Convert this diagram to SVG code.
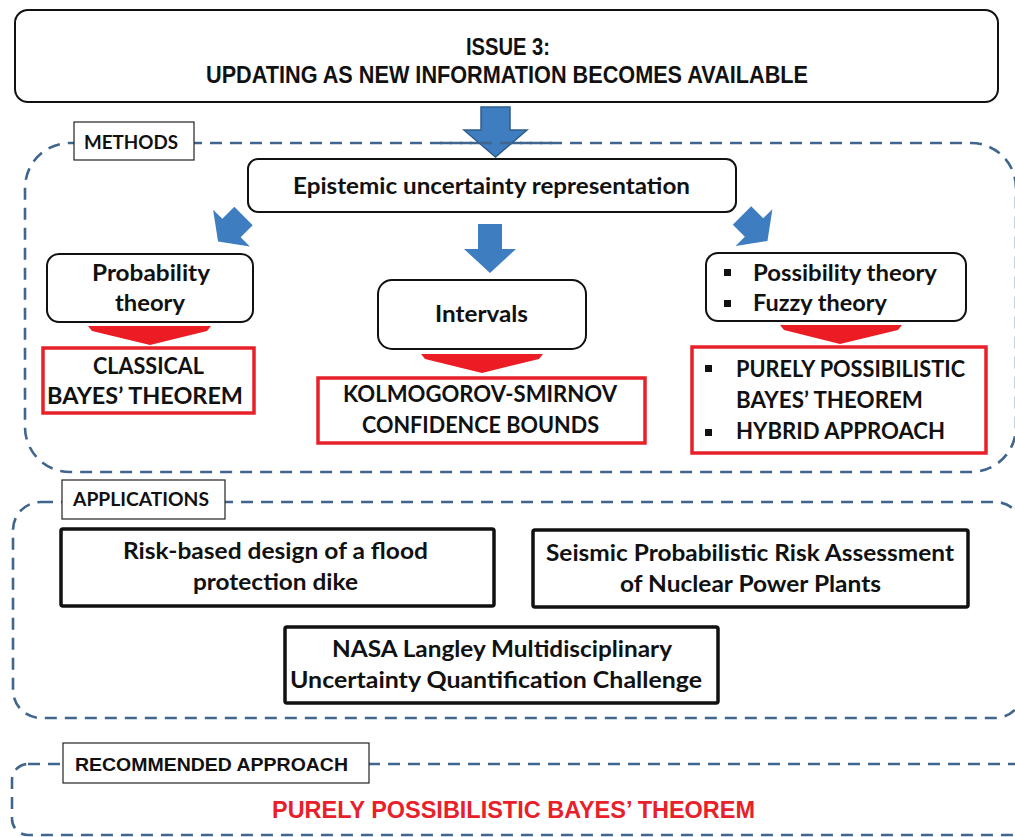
<svg xmlns="http://www.w3.org/2000/svg" width="1015" height="837" viewBox="0 0 1015 837">
<defs>
<style>
.dash{fill:none;stroke:#41668e;stroke-width:2.6;stroke-dasharray:12 8}
.lab{fill:#fff;stroke:#222;stroke-width:1.2}
.rnd{fill:#fff;stroke:#111;stroke-width:2}
.red{fill:#fff;stroke:#e8202a;stroke-width:3.5}
.app{fill:#fff;stroke:#111;stroke-width:3.5}
.blue{fill:#3e7dc0}
.redar{fill:#ec1c24}
.t{font-family:Lato,"Open Sans","Liberation Sans",sans-serif;font-weight:700;font-size:22px;fill:#111;text-anchor:middle}
.tl{font-family:Lato,"Open Sans","Liberation Sans",sans-serif;font-weight:700;font-size:22px;fill:#111}
.lb{font-family:Lato,"Liberation Sans",sans-serif;font-weight:700;font-size:18px;fill:#111}
.cn{font-family:"Liberation Sans",Arial,sans-serif;font-weight:700;fill:#111;text-anchor:middle}
.bul{fill:#111}
</style>
<path id="blk" d="M-13,0 L13,0 L13,17 L26,17 L0,36 L-26,17 L-13,17 Z"/>
</defs>
<rect width="1015" height="837" fill="#fff"/>

<!-- region containers -->
<g id="methods-region">
<rect class="dash" x="25" y="143" width="991" height="329" rx="45"/>
</g>
<g id="applications-region">
<rect class="dash" x="13" y="502" width="1010" height="216" rx="28"/>
</g>
<g id="recommended-region">
<rect class="dash" x="12" y="764" width="1020" height="71" rx="16"/>
</g>

<!-- connectors -->
<g id="connectors">
<path d="M481,107 H510 V130 H527 L495.5,157 L464,130 H481 Z" fill="#3e7dc0" stroke="#2f5d8a" stroke-width="1.5"/>
<line x1="440" y1="143" x2="560" y2="143" class="dash"/>
<use href="#blk" class="blue" transform="translate(243.5,216) rotate(45)"/>
<path class="blue" d="M478,224 H502 V249 H516 L490,273 L464,249 H478 Z"/>
<use href="#blk" class="blue" transform="translate(742,215.5) rotate(-45)"/>
<polygon class="redar" points="88,326 211,326 207,331 150,345 92,331"/>
<polygon class="redar" points="421,354 543,354 539,359 482,373 425,359"/>
<polygon class="redar" points="780,325 902,325 898,330 840,344 784,330"/>
</g>

<g id="issue">
<rect class="rnd" x="15" y="10" width="983" height="92" rx="13"/>
<text class="cn" x="508" y="55" font-size="24" textLength="84" lengthAdjust="spacingAndGlyphs">ISSUE 3:</text>
<text class="cn" x="507" y="83" font-size="24" textLength="602" lengthAdjust="spacingAndGlyphs">UPDATING AS NEW INFORMATION BECOMES AVAILABLE</text>
</g>

<g id="methods-label">
<rect class="lab" x="74" y="122" width="120" height="38"/>
<text class="lb" x="84" y="149" textLength="94" lengthAdjust="spacingAndGlyphs">METHODS</text>
</g>

<g id="epistemic">
<rect class="rnd" x="248" y="159" width="488" height="53" rx="10"/>
<text class="t" x="491.5" y="194" textLength="397" lengthAdjust="spacingAndGlyphs">Epistemic uncertainty representation</text>
</g>

<g id="probability">
<rect class="rnd" x="47" y="254" width="206" height="68" rx="12"/>
<text class="t" x="151" y="281" textLength="118" lengthAdjust="spacingAndGlyphs">Probability</text>
<text class="t" x="150" y="311" textLength="70" lengthAdjust="spacingAndGlyphs">theory</text>
</g>

<g id="intervals">
<rect class="rnd" x="378" y="280" width="208" height="69" rx="14"/>
<text class="t" x="481.5" y="322" textLength="93" lengthAdjust="spacingAndGlyphs">Intervals</text>
</g>

<g id="possibility">
<rect class="rnd" x="706" y="253" width="260" height="68" rx="12"/>
<rect class="bul" x="724" y="269" width="7" height="7"/>
<rect class="bul" x="724" y="300" width="7" height="7"/>
<text class="tl" x="753" y="281" textLength="184" lengthAdjust="spacingAndGlyphs">Possibility theory</text>
<text class="tl" x="753" y="311" textLength="134" lengthAdjust="spacingAndGlyphs">Fuzzy theory</text>
</g>

<g id="classical">
<rect class="red" x="43" y="348" width="211" height="65"/>
<text class="t" x="148.5" y="374" textLength="111" lengthAdjust="spacingAndGlyphs">CLASSICAL</text>
<text class="t" x="145" y="404" textLength="196" lengthAdjust="spacingAndGlyphs">BAYES’ THEOREM</text>
</g>

<g id="ks">
<rect class="red" x="318" y="378" width="327" height="65"/>
<text class="t" x="480" y="402" textLength="274" lengthAdjust="spacingAndGlyphs">KOLMOGOROV-SMIRNOV</text>
<text class="t" x="480.5" y="433" textLength="237" lengthAdjust="spacingAndGlyphs">CONFIDENCE BOUNDS</text>
</g>

<g id="purely">
<rect class="red" x="692" y="347" width="294" height="106"/>
<rect class="bul" x="705" y="365" width="7" height="7"/>
<rect class="bul" x="705" y="429" width="7" height="7"/>
<text class="tl" x="736" y="377" textLength="229" lengthAdjust="spacingAndGlyphs">PURELY POSSIBILISTIC</text>
<text class="tl" x="736" y="408" textLength="187" lengthAdjust="spacingAndGlyphs">BAYES’ THEOREM</text>
<text class="tl" x="736" y="439" textLength="209" lengthAdjust="spacingAndGlyphs">HYBRID APPROACH</text>
</g>

<g id="applications-label">
<rect class="lab" x="62" y="480" width="163" height="39"/>
<text class="lb" x="73" y="506" textLength="136" lengthAdjust="spacingAndGlyphs">APPLICATIONS</text>
</g>

<g id="dike">
<rect class="app" x="61" y="529" width="433" height="77" rx="2"/>
<text class="t" x="275.5" y="559" textLength="305" lengthAdjust="spacingAndGlyphs">Risk-based design of a flood</text>
<text class="t" x="275.5" y="590" textLength="165" lengthAdjust="spacingAndGlyphs">protection dike</text>
</g>

<g id="seismic">
<rect class="app" x="533" y="530" width="435" height="77" rx="2"/>
<text class="t" x="750" y="561" textLength="408" lengthAdjust="spacingAndGlyphs">Seismic Probabilistic Risk Assessment</text>
<text class="t" x="750.5" y="592" textLength="261" lengthAdjust="spacingAndGlyphs">of Nuclear Power Plants</text>
</g>

<g id="nasa">
<rect class="app" x="285" y="627" width="433" height="76" rx="2"/>
<text class="t" x="502" y="657" textLength="340" lengthAdjust="spacingAndGlyphs">NASA Langley Multidisciplinary</text>
<text class="t" x="496" y="688" textLength="412" lengthAdjust="spacingAndGlyphs">Uncertainty Quantification Challenge</text>
</g>

<g id="recommended-label">
<rect class="lab" x="63" y="743" width="306" height="40"/>
<text class="cn" x="211.5" y="771" font-size="19" font-weight="600" textLength="273" lengthAdjust="spacingAndGlyphs">RECOMMENDED  APPROACH</text>
</g>

<g id="recommended">
<text class="cn" x="513.5" y="818" font-size="24" style="fill:#e8202a" textLength="483" lengthAdjust="spacingAndGlyphs">PURELY POSSIBILISTIC BAYES’ THEOREM</text>
</g>
</svg>
